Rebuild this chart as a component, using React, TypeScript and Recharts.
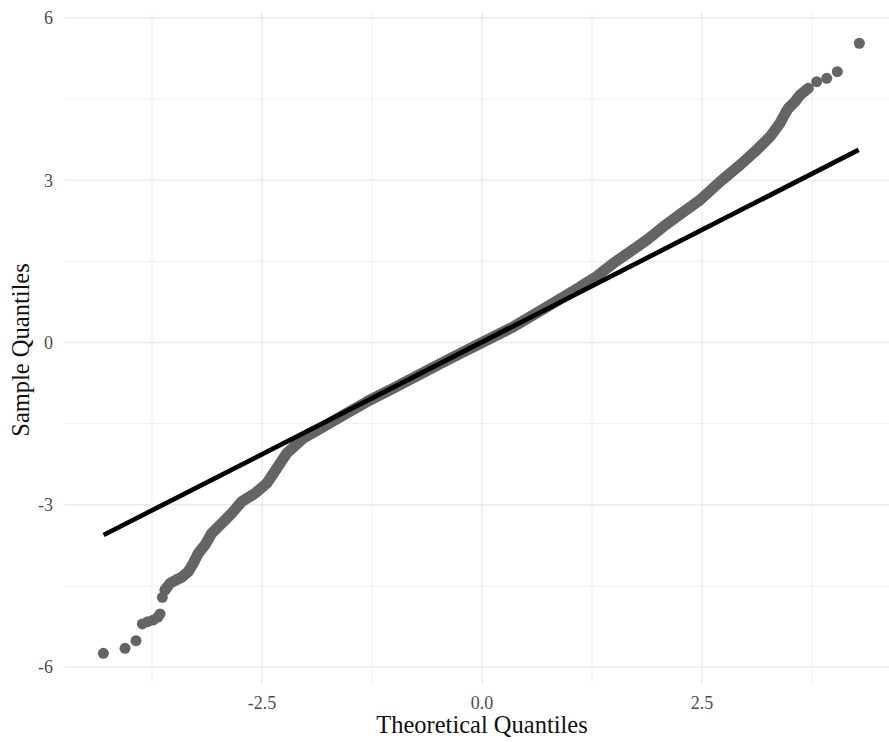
import {
  ComposedChart,
  CartesianGrid,
  Line,
  XAxis,
  YAxis,
  Label,
} from "recharts";

type Pt = { x: number; y: number };

// sparse points in the lower tail
const lowerTail: Pt[] = [
  { x: -4.303, y: -5.747 },
  { x: -4.057, y: -5.655 },
  { x: -3.932, y: -5.514 },
  { x: -3.86, y: -5.205 },
  { x: -3.799, y: -5.163 },
  { x: -3.735, y: -5.131 },
  { x: -3.682, y: -5.076 },
  { x: -3.659, y: -5.02 },
  { x: -3.633, y: -4.712 },
  { x: -3.602, y: -4.577 },
];

// dense run of sample quantiles (drawn as a thick band)
const band: Pt[] = [
  { x: -3.602, y: -4.577 },
  { x: -3.545, y: -4.453 },
  { x: -3.477, y: -4.392 },
  { x: -3.413, y: -4.342 },
  { x: -3.338, y: -4.238 },
  { x: -3.281, y: -4.083 },
  { x: -3.224, y: -3.898 },
  { x: -3.148, y: -3.744 },
  { x: -3.072, y: -3.528 },
  { x: -2.958, y: -3.343 },
  { x: -2.844, y: -3.158 },
  { x: -2.731, y: -2.944 },
  { x: -2.58, y: -2.789 },
  { x: -2.447, y: -2.604 },
  { x: -2.37, y: -2.42 },
  { x: -2.219, y: -2.049 },
  { x: -2.031, y: -1.771 },
  { x: -1.803, y: -1.557 },
  { x: -1.538, y: -1.309 },
  { x: -1.273, y: -1.063 },
  { x: -1.0, y: -0.84 },
  { x: -0.75, y: -0.625 },
  { x: -0.5, y: -0.415 },
  { x: -0.25, y: -0.205 },
  { x: 0.0, y: 0.0 },
  { x: 0.356, y: 0.29 },
  { x: 0.735, y: 0.656 },
  { x: 1.114, y: 1.026 },
  { x: 1.3, y: 1.22 },
  { x: 1.492, y: 1.464 },
  { x: 1.682, y: 1.679 },
  { x: 1.872, y: 1.895 },
  { x: 2.06, y: 2.141 },
  { x: 2.25, y: 2.37 },
  { x: 2.477, y: 2.635 },
  { x: 2.705, y: 2.973 },
  { x: 2.932, y: 3.282 },
  { x: 3.122, y: 3.56 },
  { x: 3.273, y: 3.805 },
  { x: 3.386, y: 4.053 },
  { x: 3.424, y: 4.175 },
  { x: 3.481, y: 4.331 },
  { x: 3.557, y: 4.453 },
  { x: 3.614, y: 4.577 },
  { x: 3.708, y: 4.7 },
];

// sparse points in the upper tail
const upperTail: Pt[] = [
  { x: 3.803, y: 4.823 },
  { x: 3.917, y: 4.885 },
  { x: 4.038, y: 5.007 },
  { x: 4.288, y: 5.533 },
];

// reference line through the quartiles
const refLine: Pt[] = [
  { x: -4.3, y: -3.56 },
  { x: 4.28, y: 3.56 },
];

const xTicks = [-2.5, 0, 2.5];
const yTicks = [-6, -3, 0, 3, 6];
const xMinor = [-3.75, -1.25, 1.25, 3.75];
const yMinor = [-4.5, -1.5, 1.5, 4.5];

const POINT = "#646464";
const FONT = "'Liberation Serif', 'Times New Roman', serif";

const dot = (props: any) => (
  <circle key={props.index} cx={props.cx} cy={props.cy} r={5.5} fill={POINT} />
);

export default function App() {
  return (
    <div style={{ position: "absolute", left: 0, top: 0, background: "#fff" }}>
      <ComposedChart
        width={889}
        height={742}
        margin={{ top: 12, right: 0, bottom: 0, left: 0 }}
        style={{ fontFamily: FONT }}
      >
        <CartesianGrid
          stroke="#EBEBEB"
          strokeWidth={0.8}
          verticalValues={xMinor}
          horizontalValues={yMinor}
        />
        <CartesianGrid
          stroke="#EBEBEB"
          strokeWidth={1.4}
          verticalValues={xTicks}
          horizontalValues={yTicks}
        />
        <XAxis
          type="number"
          dataKey="x"
          domain={[-4.739, 4.625]}
          allowDataOverflow
          ticks={xTicks}
          tickFormatter={(v: number) => v.toFixed(1)}
          axisLine={false}
          tickLine={false}
          tickSize={0}
          tickMargin={12}
          height={58}
          tick={{ fill: "#4D4D4D", fontSize: 18, fontFamily: FONT }}
        >
          <Label
            content={(p: any) => {
              const vb = p.viewBox || { x: 65, y: 684, width: 824, height: 58 };
              return (
                <text
                  x={vb.x + vb.width / 2 + 5}
                  y={733}
                  textAnchor="middle"
                  fontSize={24.5}
                  fill="#111"
                  fontFamily={FONT}
                >
                  Theoretical Quantiles
                </text>
              );
            }}
          />
        </XAxis>
        <YAxis
          type="number"
          dataKey="y"
          domain={[-6.315, 6.111]}
          allowDataOverflow
          ticks={yTicks}
          axisLine={false}
          tickLine={false}
          tickSize={0}
          tickMargin={12}
          width={65}
          tick={{ fill: "#4D4D4D", fontSize: 18, fontFamily: FONT }}
        >
          <Label
            content={() => (
              <text
                x={20}
                y={350}
                transform="rotate(-90 20 350)"
                textAnchor="middle"
                dominantBaseline="central"
                fontSize={24.5}
                fill="#111"
                fontFamily={FONT}
              >
                Sample Quantiles
              </text>
            )}
          />
        </YAxis>
        <Line
          data={band}
          dataKey="y"
          type="linear"
          stroke={POINT}
          strokeWidth={11}
          strokeLinecap="round"
          strokeLinejoin="round"
          dot={false}
          activeDot={false}
          isAnimationActive={false}
        />
        <Line
          data={lowerTail}
          dataKey="y"
          stroke="none"
          dot={dot}
          activeDot={false}
          isAnimationActive={false}
        />
        <Line
          data={upperTail}
          dataKey="y"
          stroke="none"
          dot={dot}
          activeDot={false}
          isAnimationActive={false}
        />
        <Line
          data={refLine}
          dataKey="y"
          type="linear"
          stroke="#000"
          strokeWidth={4.7}
          dot={false}
          activeDot={false}
          isAnimationActive={false}
        />
      </ComposedChart>
    </div>
  );
}
